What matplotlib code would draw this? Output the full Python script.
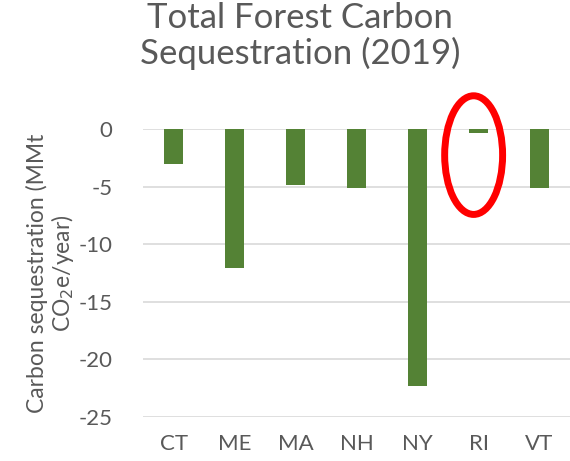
import matplotlib
matplotlib.use("Agg")
import matplotlib.pyplot as plt
from matplotlib.patches import Ellipse

states = ["CT", "ME", "MA", "NH", "NY", "RI", "VT"]
sequestration = [-3.0, -12.1, -4.85, -5.1, -22.3, -0.3, -5.15]
yticks = [0, -5, -10, -15, -20, -25]

plt.rcParams['font.family'] = ['Lato', 'DejaVu Sans']
gray = "#595959"
green = "#548235"

fig = plt.figure(figsize=(5.70, 4.61), dpi=100)
ax = fig.add_axes([0.251, 0.0954, 0.749, 0.6246])

x = range(len(states))
ax.bar(x, sequestration, width=0.32, color=green, zorder=3)
ax.set_xlim(-0.5, len(states) - 0.5)
ax.set_ylim(-25, 0)
ax.set_yticks(yticks)
ax.set_yticklabels([str(t) for t in yticks])
ax.set_xticks(list(x))
ax.set_xticklabels(states)
ax.yaxis.grid(True, color="#d9d9d9", linewidth=1.2, zorder=0)
ax.tick_params(axis="both", length=0, colors=gray, labelsize=16)
ax.tick_params(axis="y", pad=22)
ax.tick_params(axis="x", pad=12)
for s in ax.spines.values():
    s.set_visible(False)

ax.set_ylabel("Carbon sequestration (MMt\nCO$_2$e/year)", color=gray, fontsize=16.5, labelpad=2, linespacing=1.05)

fig.text(0.526, 0.995, "Total Forest Carbon\nSequestration (2019)", ha="center", va="top",
         fontsize=25, color=gray, linespacing=1.1)

ell = Ellipse((4.92, -2.26), 0.95, 10.3, fill=False, edgecolor="#ff0000", linewidth=5, zorder=5, clip_on=False)
ax.add_patch(ell)

fig.savefig("out.png", dpi=100)
